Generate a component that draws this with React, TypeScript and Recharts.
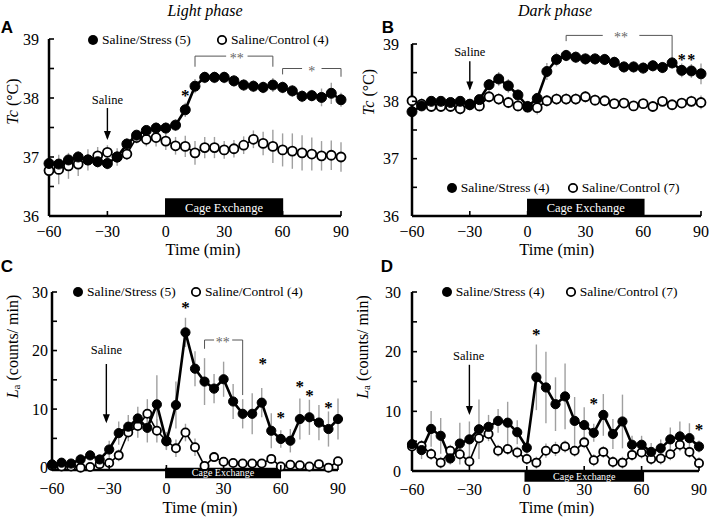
import React from 'react';
import {
  ComposedChart,
  Line,
  XAxis,
  YAxis,
  ErrorBar,
  ReferenceArea,
  ReferenceLine,
  ReferenceDot,
  Legend,
} from 'recharts';

// ---------- data ----------
const TIME = [-60, -55, -50, -45, -40, -35, -30, -25, -20, -15, -10, -5, 0, 5, 10, 15, 20, 25, 30, 35, 40, 45, 50, 55, 60, 65, 70, 75, 80, 85, 90];
const X_TICKS = [-60, -30, 0, 30, 60, 90];
const TC_TICKS = [36, 36.5, 37, 37.5, 38, 38.5, 39];
const LA_TICKS = [0, 5, 10, 15, 20, 25, 30];

const aStress = [36.89, 36.88, 36.95, 37.0, 36.95, 36.92, 36.89, 37.0, 37.22, 37.37, 37.45, 37.49, 37.49, 37.54, 37.8, 38.2, 38.35, 38.35, 38.35, 38.29, 38.22, 38.2, 38.18, 38.22, 38.18, 38.12, 38.03, 38.04, 38.01, 38.08, 37.97];
const aStressSE = [0.1, 0.1, 0.1, 0.1, 0.1, 0.1, 0.1, 0.1, 0.1, 0.08, 0.08, 0.1, 0.1, 0.1, 0.12, 0.12, 0.1, 0.1, 0.1, 0.1, 0.1, 0.1, 0.1, 0.12, 0.1, 0.1, 0.1, 0.1, 0.15, 0.18, 0.12];
const aControl = [36.77, 36.79, 36.85, 36.88, 36.95, 37.02, 37.08, 37.0, 37.05, 37.33, 37.3, 37.33, 37.27, 37.19, 37.18, 37.07, 37.16, 37.16, 37.12, 37.14, 37.2, 37.3, 37.23, 37.18, 37.12, 37.1, 37.07, 37.05, 37.02, 37.03, 37.0];
const aControlSE = [0.2, 0.25, 0.22, 0.2, 0.18, 0.15, 0.12, 0.15, 0.1, 0.1, 0.12, 0.15, 0.15, 0.15, 0.18, 0.2, 0.18, 0.18, 0.15, 0.15, 0.15, 0.15, 0.2, 0.28, 0.28, 0.3, 0.3, 0.28, 0.25, 0.25, 0.25];

const bStress = [37.82, 37.92, 38.0, 38.0, 37.98, 38.0, 37.95, 38.03, 38.29, 38.39, 38.27, 38.11, 37.91, 38.05, 38.52, 38.73, 38.8, 38.77, 38.74, 38.74, 38.73, 38.68, 38.6, 38.6, 38.58, 38.62, 38.59, 38.67, 38.54, 38.53, 38.48];
const bStressSE = [0.08, 0.08, 0.08, 0.08, 0.08, 0.08, 0.08, 0.08, 0.1, 0.12, 0.12, 0.1, 0.1, 0.1, 0.15, 0.12, 0.1, 0.1, 0.1, 0.1, 0.1, 0.1, 0.1, 0.1, 0.1, 0.1, 0.1, 0.1, 0.12, 0.12, 0.18];
const bControl = [38.01, 37.95, 37.91, 37.91, 37.91, 37.87, 37.94, 37.92, 38.08, 38.04, 37.98, 37.92, 37.9, 37.89, 38.01, 38.04, 38.04, 38.04, 38.08, 38.02, 38.01, 37.96, 37.97, 37.92, 37.96, 37.91, 38.0, 37.94, 37.97, 38.0, 37.98];
const bControlSE = [0.1, 0.1, 0.08, 0.08, 0.08, 0.1, 0.1, 0.1, 0.1, 0.1, 0.1, 0.1, 0.1, 0.12, 0.1, 0.1, 0.1, 0.1, 0.1, 0.1, 0.08, 0.08, 0.08, 0.08, 0.08, 0.08, 0.08, 0.08, 0.08, 0.1, 0.12];

const cStress = [0.56, 0.85, 0.7, 1.4, 2.1, 1.4, 3.1, 5.9, 7.0, 8.4, 6.8, 10.8, 4.5, 10.7, 23.1, 16.9, 14.7, 13.5, 15.1, 11.3, 9.2, 9.2, 11.1, 6.3, 4.9, 4.6, 8.3, 8.6, 7.7, 6.6, 8.3];
const cStressSE = [0.5, 0.5, 0.5, 0.8, 0.8, 0.8, 1.5, 2, 2, 2, 2.5, 5, 1.5, 4, 2.5, 3, 4, 2.5, 3, 3, 2.5, 3.5, 2.5, 3, 1.5, 2, 3.5, 3, 3, 3, 3.5];
const cControl = [0.3, 0.2, 0.2, 0.0, 0.1, 0.6, 0.8, 2.1, 6.0, 7.1, 9.2, 6.3, 4.6, 3.3, 6.0, 3.5, 0.3, 1.8, 1.0, 0.8, 0.7, 0.7, 0.7, 1.5, 0.2, 0.5, 0.4, 0.2, 0.6, 0.0, 1.1];
const cControlSE = [0.3, 0.3, 0.3, 0.3, 0.3, 0.4, 0.5, 1, 1.5, 2, 2.5, 2, 1.5, 1.5, 1.5, 1.5, 0.5, 0.8, 0.5, 0.5, 0.5, 0.5, 0.5, 0.8, 0.4, 0.4, 0.4, 0.4, 0.4, 0.4, 0.5];

const dStress = [4.5, 3.5, 7.05, 5.9, 2.1, 4.6, 5.3, 7.0, 7.4, 8.4, 8.1, 6.5, 3.9, 15.7, 14.0, 11.2, 12.5, 8.4, 7.7, 6.4, 9.4, 6.2, 8.3, 4.4, 4.4, 3.2, 3.8, 5.3, 5.8, 5.5, 4.1];
const dStressSE = [1, 1.5, 3, 3, 1, 3.5, 3, 5, 2, 2, 3.5, 2, 1, 5.5, 6, 4.5, 5.5, 4, 3, 1.5, 3.5, 2.5, 4.5, 1.5, 1.5, 1.5, 1.5, 2, 2.5, 2.5, 1];
const dControl = [4.1, 4.2, 2.85, 1.4, 3.4, 2.8, 1.6, 5.5, 6.2, 3.4, 3.7, 3.1, 2.0, 1.4, 3.4, 3.7, 4.1, 3.4, 4.8, 1.8, 3.2, 1.5, 1.4, 2.7, 3.1, 2.0, 2.1, 2.8, 4.4, 3.2, 1.3];
const dControlSE = [1, 1, 1, 1, 1, 1, 1, 1.2, 1.2, 1, 1, 1, 1, 1, 1.2, 1.2, 1, 1, 1, 1, 1, 1, 1, 1, 1, 1, 1, 1, 1, 1, 1];

const buildRows = (s: number[], se: number[], c: number[], ce: number[]) =>
  TIME.map((t, i) => ({ t, s: s[i], se: se[i], c: c[i], ce: ce[i] }));

const SERIF = '"Liberation Serif", "Times New Roman", Times, serif';
const SANS = '"Liberation Sans", Arial, Helvetica, sans-serif';
const fmtX = (v: number) => (v < 0 ? '\u2212' + Math.abs(v) : String(v));

// ---------- annotation shapes ----------
const textShape = (s: string, fs: number, color = '#000') => (p: any) => (
  <text x={p.cx} y={p.cy} dy="0.35em" textAnchor="middle" fontSize={fs} fontFamily={SERIF} fill={color}>
    {s}
  </text>
);
const starShape = (s: string, fs: number, color = '#000', bold = true) => (p: any) => (
  <text
    x={p.cx}
    y={p.cy + fs * 0.5}
    textAnchor="middle"
    fontSize={fs}
    fontFamily={SERIF}
    fontWeight={bold ? 'bold' : 'normal'}
    fill={color}
  >
    {s}
  </text>
);
const arrowHead = (p: any) => (
  <polygon points={`${p.cx - 3.5},${p.cy - 9} ${p.cx + 3.5},${p.cy - 9} ${p.cx},${p.cy}`} fill="#000" />
);

const seg = (key: string, x1: number, y1: number, x2: number, y2: number, color = '#555', w = 1) => (
  <ReferenceLine
    key={key}
    segment={[{ x: x1, y: y1 }, { x: x2, y: y2 }]}
    stroke={color}
    strokeWidth={w}
    ifOverflow="visible"
  />
);
const dot = (key: string, x: number, y: number, shape: any) => (
  <ReferenceDot key={key} x={x} y={y} r={0} shape={shape} ifOverflow="visible" />
);

// ---------- panel ----------
type Cfg = {
  left: number;
  top: number;
  width: number;
  height: number;
  margin: { top: number; right: number; bottom: number; left: number };
  domain: [number, number];
  ticks: number[];
  majorStep: number;
  yGap: number;
  xLabOff: number;
  data: any[];
  stressName: string;
  controlName: string;
  legendX: number;
  legendY: number;
  legendGap: number;
  yTitle: { x: number; y: number };
  xTitle: { x: number; y: number };
  kind: 'tc' | 'la';
  dotR: number;
  cage: { x1: number; x2: number; y1: number; y2: number; fs: number };
};

function Panel({ cfg, children }: { cfg: Cfg; children?: React.ReactNode }) {
  const c = cfg;
  const YTick = (props: any) => {
    const { x, y, payload } = props;
    const ax = x + c.yGap;
    const v = payload.value;
    const major = Math.abs(v / c.majorStep - Math.round(v / c.majorStep)) < 1e-6;
    return (
      <g>
        <line x1={ax} x2={ax + 5} y1={y} y2={y} stroke="#000" strokeWidth={1.6} />
        {major && (
          <text x={x} y={y} dy="0.36em" textAnchor="end" fontSize={16} fontFamily={SERIF} fill="#000">
            {v}
          </text>
        )}
      </g>
    );
  };
  const XTick = (props: any) => {
    const { x, y, payload } = props;
    return (
      <g>
        <line x1={x} x2={x} y1={y} y2={y - 5} stroke="#000" strokeWidth={1.6} />
        <text x={x} y={y + c.xLabOff} dy="0.36em" textAnchor="middle" fontSize={16} fontFamily={SERIF} fill="#000">
          {fmtX(payload.value)}
        </text>
      </g>
    );
  };
  const yx = c.yTitle.x - c.left;
  const yy = c.yTitle.y - c.top;
  const yTitle = () => (
    <text
      x={yx}
      y={yy}
      transform={`rotate(-90 ${yx} ${yy})`}
      textAnchor="middle"
      dominantBaseline="central"
      fontSize={16}
      fontFamily={SERIF}
      fill="#000"
    >
      {c.kind === 'tc' ? (
        <>
          <tspan fontStyle="italic">Tc</tspan>
          <tspan> (°C)</tspan>
        </>
      ) : (
        <>
          <tspan fontStyle="italic">L</tspan>
          <tspan dy={4} fontSize={11}>a</tspan>
          <tspan dy={-4}> (counts/ min)</tspan>
        </>
      )}
    </text>
  );
  const xTitle = () => (
    <text
      x={c.xTitle.x - c.left}
      y={c.xTitle.y - c.top}
      dy="0.35em"
      textAnchor="middle"
      fontSize={16.5}
      fontFamily={SERIF}
      fill="#000"
    >
      Time (min)
    </text>
  );
  const legendContent = () => (
    <div style={{ position: 'relative', width: 300, height: 16, fontFamily: SERIF, fontSize: 13.5, color: '#000', whiteSpace: 'nowrap' }}>
      <svg width={12} height={12} style={{ position: 'absolute', left: 0, top: 2 }}>
        <circle cx={5} cy={6} r={5} fill="#000" />
      </svg>
      <span style={{ position: 'absolute', left: 14, top: 0, lineHeight: '16px' }}>{c.stressName}</span>
      <svg width={12} height={12} style={{ position: 'absolute', left: c.legendGap, top: 2 }}>
        <circle cx={5} cy={6} r={4.2} fill="#fff" stroke="#000" strokeWidth={1.8} />
      </svg>
      <span style={{ position: 'absolute', left: c.legendGap + 14, top: 0, lineHeight: '16px' }}>{c.controlName}</span>
    </div>
  );

  return (
    <div style={{ position: 'absolute', left: c.left, top: c.top, width: c.width, height: c.height }}>
      <ComposedChart width={c.width} height={c.height} data={c.data} margin={c.margin}>
        <XAxis
          type="number"
          dataKey="t"
          domain={[-60, 90]}
          ticks={X_TICKS}
          interval={0}
          tickSize={0}
          tickMargin={0}
          height={40}
          axisLine={{ stroke: '#000', strokeWidth: 2.5 }}
          tickLine={false}
          tick={XTick}
          label={xTitle}
        />
        <YAxis
          type="number"
          domain={c.domain}
          ticks={c.ticks}
          interval={0}
          tickSize={0}
          tickMargin={c.yGap}
          width={40}
          axisLine={{ stroke: '#000', strokeWidth: 2.5 }}
          tickLine={false}
          tick={YTick}
          label={yTitle}
        />
        <ReferenceArea
          x1={c.cage.x1}
          x2={c.cage.x2}
          y1={c.cage.y1}
          y2={c.cage.y2}
          fill="#000"
          fillOpacity={1}
          stroke="none"
          ifOverflow="visible"
          label={{ value: 'Cage Exchange', position: 'center', fill: '#fff', fontSize: c.cage.fs, fontFamily: SERIF }}
        />
        <Line
          type="linear"
          dataKey="c"
          name={c.controlName}
          stroke="#000"
          strokeWidth={1.6}
          dot={{ r: c.dotR - 0.5, fill: '#fff', stroke: '#000', strokeWidth: 1.8 }}
          activeDot={false}
          isAnimationActive={false}
        >
          <ErrorBar dataKey="ce" width={0} stroke="#a0a0a0" strokeWidth={1.4} direction="y" />
        </Line>
        <Line
          type="linear"
          dataKey="s"
          name={c.stressName}
          stroke="#000"
          strokeWidth={2.6}
          dot={{ r: c.dotR, fill: '#000', stroke: '#000', strokeWidth: 1 }}
          activeDot={false}
          isAnimationActive={false}
        >
          <ErrorBar dataKey="se" width={0} stroke="#a0a0a0" strokeWidth={1.4} direction="y" />
        </Line>
        {children}
        <Legend
          layout="horizontal"
          verticalAlign="middle"
          align="center"
          content={legendContent}
          wrapperStyle={{ left: c.legendX - 5 - c.left, top: c.legendY - 8 - c.top, width: 300, height: 16 }}
        />
      </ComposedChart>
    </div>
  );
}

const cfgA: Cfg = {
  left: 0, top: 0, width: 354, height: 262,
  margin: { top: 39, right: 13, bottom: 6, left: 9 },
  domain: [36, 39], ticks: TC_TICKS, majorStep: 1, yGap: 10, xLabOff: 15,
  data: buildRows(aStress, aStressSE, aControl, aControlSE),
  stressName: 'Saline/Stress (5)', controlName: 'Saline/Control (4)',
  legendX: 93, legendY: 40, legendGap: 129,
  yTitle: { x: 12, y: 101.5 }, xTitle: { x: 203, y: 249 }, kind: 'tc', dotR: 5,
  cage: { x1: -0.4, x2: 60.3, y1: 36, y2: 36.3, fs: 12.5 },
};
const cfgB: Cfg = {
  left: 354, top: 0, width: 355, height: 262,
  margin: { top: 44, right: 8, bottom: 6, left: 18 },
  domain: [36, 39], ticks: TC_TICKS, majorStep: 1, yGap: 13, xLabOff: 15,
  data: buildRows(bStress, bStressSE, bControl, bControlSE),
  stressName: 'Saline/Stress (4)', controlName: 'Saline/Control (7)',
  legendX: 451.7, legendY: 188.3, legendGap: 121,
  yTitle: { x: 368, y: 92 }, xTitle: { x: 556.7, y: 249 }, kind: 'tc', dotR: 5,
  cage: { x1: -0.3, x2: 60.7, y1: 36, y2: 36.3, fs: 12.5 },
};
const cfgC: Cfg = {
  left: 0, top: 262, width: 354, height: 259,
  margin: { top: 30, right: 16, bottom: 11, left: 12 },
  domain: [0, 30], ticks: LA_TICKS, majorStep: 10, yGap: 4, xLabOff: 18,
  data: buildRows(cStress, cStressSE, cControl, cControlSE),
  stressName: 'Saline/Stress (5)', controlName: 'Saline/Control (4)',
  legendX: 78, legendY: 292, legendGap: 118,
  yTitle: { x: 12, y: 346.5 }, xTitle: { x: 200, y: 507 }, kind: 'la', dotR: 4.6,
  cage: { x1: -0.7, x2: 60.1, y1: -1.8, y2: 0, fs: 10 },
};
const cfgD: Cfg = {
  left: 354, top: 262, width: 355, height: 259,
  margin: { top: 30, right: 10, bottom: 10, left: 18 },
  domain: [0, 30], ticks: LA_TICKS, majorStep: 10, yGap: 11, xLabOff: 18,
  data: buildRows(dStress, dStressSE, dControl, dControlSE),
  stressName: 'Saline/Stress (4)', controlName: 'Saline/Control (7)',
  legendX: 446.7, legendY: 292, legendGap: 124,
  yTitle: { x: 362, y: 347 }, xTitle: { x: 556.7, y: 507.5 }, kind: 'la', dotR: 4.6,
  cage: { x1: -1.2, x2: 61.3, y1: -1.8, y2: 0, fs: 10 },
};

const absText = (s: string, x: number, y: number, style: React.CSSProperties) => (
  <div
    style={{
      position: 'absolute',
      left: x,
      top: y,
      transform: 'translate(-50%, -50%)',
      whiteSpace: 'nowrap',
      lineHeight: 1,
      color: '#000',
      ...style,
    }}
  >
    {s}
  </div>
);

export default function App() {
  return (
    <div style={{ position: 'absolute', left: 0, top: 0, width: 709, height: 521, background: '#fff', overflow: 'hidden' }}>
      {absText('Light phase', 205, 11, { fontFamily: SERIF, fontStyle: 'italic', fontSize: 16 })}
      {absText('Dark phase', 555, 11, { fontFamily: SERIF, fontStyle: 'italic', fontSize: 16 })}
      {absText('A', 7, 27, { fontFamily: SANS, fontWeight: 'bold', fontSize: 17 })}
      {absText('B', 388, 27, { fontFamily: SANS, fontWeight: 'bold', fontSize: 17 })}
      {absText('C', 7, 266, { fontFamily: SANS, fontWeight: 'bold', fontSize: 17 })}
      {absText('D', 387, 266, { fontFamily: SANS, fontWeight: 'bold', fontSize: 17 })}

      <Panel cfg={cfgA}>
        {dot('a-sal', -30, 37.98, textShape('Saline', 12.5))}
        {seg('a-arr', -30, 37.83, -30, 37.32, '#000', 1.4)}
        {dot('a-arrh', -30, 37.29, arrowHead)}
        {dot('a-s10', 10, 38.1, starShape('*', 17))}
        {seg('a-b1a', 15, 38.71, 31, 38.71)}
        {seg('a-b1b', 42, 38.71, 55, 38.71)}
        {seg('a-b1l', 15, 38.71, 15, 38.53)}
        {seg('a-b1r', 55, 38.71, 55, 38.53)}
        {dot('a-b1t', 36.5, 38.71, starShape('**', 14, '#666', false))}
        {seg('a-b2a', 60, 38.5, 70, 38.5)}
        {seg('a-b2b', 80, 38.5, 90, 38.5)}
        {seg('a-b2l', 60, 38.5, 60, 38.4)}
        {seg('a-b2r', 90, 38.5, 90, 38.36)}
        {dot('a-b2t', 75, 38.5, starShape('*', 14, '#666', false))}
      </Panel>

      <Panel cfg={cfgB}>
        {dot('b-sal', -30, 38.86, textShape('Saline', 12.5))}
        {seg('b-arr', -30, 38.7, -30, 38.22, '#000', 1.4)}
        {dot('b-arrh', -30, 38.19, arrowHead)}
        {seg('b-ba', 20, 39.15, 39, 39.15)}
        {seg('b-bb', 58, 39.15, 75, 39.15)}
        {seg('b-bl', 20, 39.15, 20, 39.05)}
        {seg('b-br', 75, 39.15, 75, 38.7)}
        {dot('b-bt', 48.5, 39.15, starShape('**', 14, '#666', false))}
        {dot('b-s80', 80, 38.78, starShape('*', 16))}
        {dot('b-s85', 85, 38.78, starShape('*', 16))}
      </Panel>

      <Panel cfg={cfgC}>
        {dot('c-sal', -31.5, 20.2, textShape('Saline', 12.5))}
        {seg('c-arr', -31.5, 17.7, -31.5, 8.0, '#000', 1.4)}
        {dot('c-arrh', -31.5, 7.6, arrowHead)}
        {dot('c-s10', 10, 27.8, starShape('*', 17))}
        {seg('c-ba', 20, 21.8, 25, 21.8)}
        {seg('c-bb', 34.5, 21.8, 40, 21.8)}
        {seg('c-bl', 20, 21.8, 20, 20.3)}
        {seg('c-br', 40, 21.8, 40, 12.4)}
        {dot('c-bt', 29.5, 21.8, starShape('**', 14, '#666', false))}
        {dot('c-s50', 50.5, 18.3, starShape('*', 17))}
        {dot('c-s60', 60, 9.0, starShape('*', 17))}
        {dot('c-s70', 70, 14.3, starShape('*', 17))}
        {dot('c-s75', 75, 12.8, starShape('*', 17))}
        {dot('c-s85', 85, 10.8, starShape('*', 17))}
      </Panel>

      <Panel cfg={cfgD}>
        {dot('d-sal', -30.4, 19.3, textShape('Saline', 12.5))}
        {seg('d-arr', -30, 17.8, -30, 9.8, '#000', 1.4)}
        {dot('d-arrh', -30, 9.4, arrowHead)}
        {dot('d-s5', 5, 23.4, starShape('*', 17))}
        {dot('d-s35', 35, 11.8, starShape('*', 17))}
        {dot('d-s90', 90, 7.4, starShape('*', 17))}
      </Panel>
    </div>
  );
}
